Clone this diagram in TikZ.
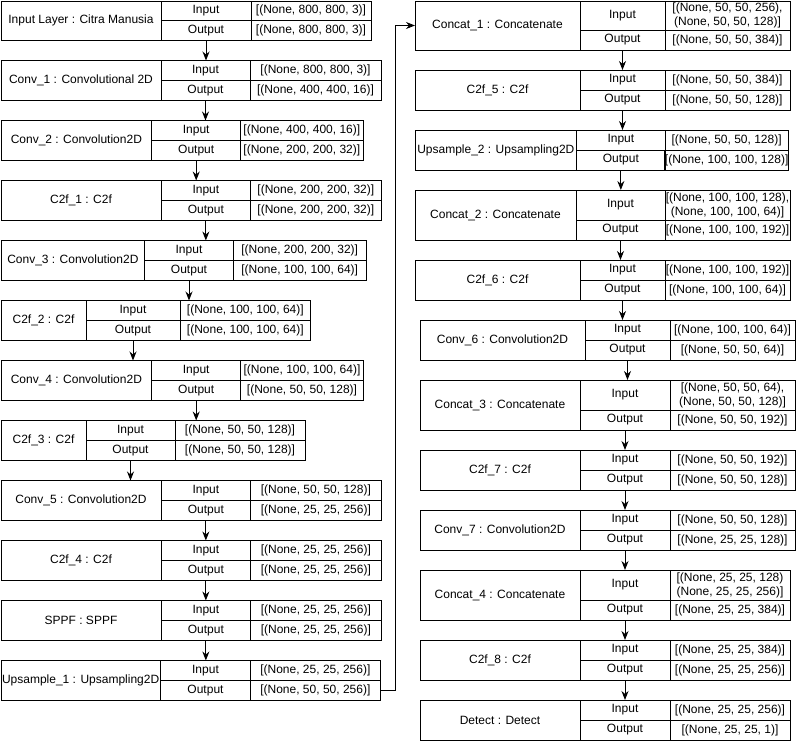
\documentclass[tikz,border=0pt]{standalone}
\usepackage{fontspec}
\setmainfont{Liberation Sans}
\usetikzlibrary{arrows.meta}
\tikzset{
  cellbox/.style={draw=black, line width=1pt, inner sep=0pt, outer sep=0pt, align=center,
    font=\fontsize{12}{14}\selectfont},
  arr/.style={draw=black, line width=1pt, -{Stealth[length=9pt,width=7pt]}}
}
\newcommand\layer[6]{\def\Lid{#1}\def\Lname{#4}\def\Lin{#5}\def\Lout{#6}\parsex#2;\parsey#3;\drawlayer}
\def\parsex#1,#2,#3,#4;{\def\Xa{#1}\def\Xb{#2}\def\Xc{#3}\def\Xd{#4}}
\def\parsey#1,#2,#3;{\def\Ya{#1}\def\Yb{#2}\def\Yc{#3}}
\newcommand\drawlayer{%
  \node[cellbox, minimum width={(\Xb-\Xa)*1pt}, minimum height={(\Yc-\Ya)*1pt}]
    (\Lid-n) at ({(\Xa+\Xb)/2},{(\Ya+\Yc)/2}) {\Lname};
  \node[cellbox, minimum width={(\Xc-\Xb)*1pt}, minimum height={(\Yb-\Ya)*1pt}]
    (\Lid-i) at ({(\Xb+\Xc)/2},{(\Ya+\Yb)/2}) {Input};
  \node[cellbox, minimum width={(\Xc-\Xb)*1pt}, minimum height={(\Yc-\Yb)*1pt}]
    (\Lid-o) at ({(\Xb+\Xc)/2},{(\Yb+\Yc)/2}) {Output};
  \node[cellbox, minimum width={(\Xd-\Xc)*1pt}, minimum height={(\Yb-\Ya)*1pt}]
    (\Lid-iv) at ({(\Xc+\Xd)/2},{(\Ya+\Yb)/2}) {\Lin};
  \node[cellbox, minimum width={(\Xd-\Xc)*1pt}, minimum height={(\Yc-\Yb)*1pt}]
    (\Lid-ov) at ({(\Xc+\Xd)/2},{(\Yb+\Yc)/2}) {\Lout};
}
\begin{document}
\begin{tikzpicture}[x=1pt,y=-1pt]
\fill[white] (0,0) rectangle (801,742);
\useasboundingbox (0,0) rectangle (801,742);
% left column
\layer{L1}{1,161,251,371}{1,20.5,40.5}{Input Layer : Citra Manusia}{[(None, 800, 800, 3)]}{[(None, 800, 800, 3)]}
\layer{L2}{1,161,250,381}{60.5,80.5,100.5}{Conv\_1 : Convolutional 2D}{[(None, 800, 800, 3)]}{[(None, 400, 400, 16)]}
\layer{L3}{1,151.7,240.7,363}{120.5,140.5,160.5}{Conv\_2 : Convolution2D}{[(None, 400, 400, 16)]}{[(None, 200, 200, 32)]}
\layer{L4}{1,161,250.7,381}{180.5,200.5,220.5}{C2f\_1 : C2f}{[(None, 200, 200, 32)]}{[(None, 200, 200, 32)]}
\layer{L5}{1,144.7,233.3,366}{240.5,260.5,280.5}{Conv\_3 : Convolution2D}{[(None, 200, 200, 32)]}{[(None, 100, 100, 64)]}
\layer{L6}{1,86,180,310.7}{300.5,320.5,340.5}{C2f\_2 : C2f}{[(None, 100, 100, 64)]}{[(None, 100, 100, 64)]}
\layer{L7}{1,151.7,240.7,363.3}{360.5,380.5,400.5}{Conv\_4 : Convolution2D}{[(None, 100, 100, 64)]}{[(None, 50, 50, 128)]}
\layer{L8}{1,86,175,305}{420.5,440.5,460.5}{C2f\_3 : C2f}{[(None, 50, 50, 128)]}{[(None, 50, 50, 128)]}
\layer{L9}{1,161,250.7,381}{480.5,500.5,520.5}{Conv\_5 : Convolution2D}{[(None, 50, 50, 128)]}{[(None, 25, 25, 256)]}
\layer{L10}{1,161,250.7,381}{540.5,560.5,580.5}{C2f\_4 : C2f}{[(None, 25, 25, 256)]}{[(None, 25, 25, 256)]}
\layer{L11}{1,161,250.7,381}{600.5,620.5,640.5}{SPPF : SPPF}{[(None, 25, 25, 256)]}{[(None, 25, 25, 256)]}
\layer{L12}{1,160.3,250.7,380}{660.5,680.5,700.5}{Upsample\_1 : Upsampling2D}{[(None, 25, 25, 256)]}{[(None, 50, 50, 256)]}
% right column
\layer{R1}{415,580,665,790}{1,30,50}{Concat\_1 : Concatenate}{[(None, 50, 50, 256),\\(None, 50, 50, 128)]}{[(None, 50, 50, 384)]}
\layer{R2}{415,580,665,790}{70,90,110}{C2f\_5 : C2f}{[(None, 50, 50, 384)]}{[(None, 50, 50, 128)]}
\layer{R3}{415,576.7,665,788.3}{130,150,170}{Upsample\_2 : Upsampling2D}{[(None, 50, 50, 128)]}{[(None, 100, 100, 128)]}
\layer{R4}{415,576,665,790}{190,220,240}{Concat\_2 : Concatenate}{[(None, 100, 100, 128),\\(None, 100, 100, 64)]}{[(None, 100, 100, 192)]}
\layer{R5}{415,580,665,790}{260,280,300}{C2f\_6 : C2f}{[(None, 100, 100, 192)]}{[(None, 100, 100, 64)]}
\layer{R6}{420,585,670,795}{320,340,360}{Conv\_6 : Convolution2D}{[(None, 100, 100, 64)]}{[(None, 50, 50, 64)]}
\layer{R7}{420,580,670,795}{380,410,430}{Concat\_3 : Concatenate}{[(None, 50, 50, 64),\\(None, 50, 50, 128)]}{[(None, 50, 50, 192)]}
\layer{R8}{420,580,670,795}{450,470,490}{C2f\_7 : C2f}{[(None, 50, 50, 192)]}{[(None, 50, 50, 128)]}
\layer{R9}{420,580,670,795}{510,530,550}{Conv\_7 : Convolution2D}{[(None, 50, 50, 128)]}{[(None, 25, 25, 128)]}
\layer{R10}{420,580,670,790}{570,600,620}{Concat\_4 : Concatenate}{[(None, 25, 25, 128)\\(None, 25, 25, 256)]}{[(None, 25, 25, 384)]}
\layer{R11}{420,580,670,790}{640,660,680}{C2f\_8 : C2f}{[(None, 25, 25, 384)]}{[(None, 25, 25, 256)]}
\layer{R12}{420,580,670,790}{700,720,740}{Detect : Detect}{[(None, 25, 25, 256)]}{[(None, 25, 25, 1)]}
% connectors
\foreach \a/\b in {L1/L2,L2/L3,L3/L4,L4/L5,L5/L6,L6/L7,L7/L8,L8/L9,L9/L10,L10/L11,L11/L12,
                   R1/R2,R2/R3,R3/R4,R4/R5,R5/R6,R6/R7,R7/R8,R8/R9,R9/R10,R10/R11,R11/R12}
  \draw[arr] (\a-o.south) -- (\a-o.south |- \b-n.north);
\draw[arr] (L12-ov.east) -- ++(15,0) |- (R1-n.west);
\end{tikzpicture}
\end{document}
